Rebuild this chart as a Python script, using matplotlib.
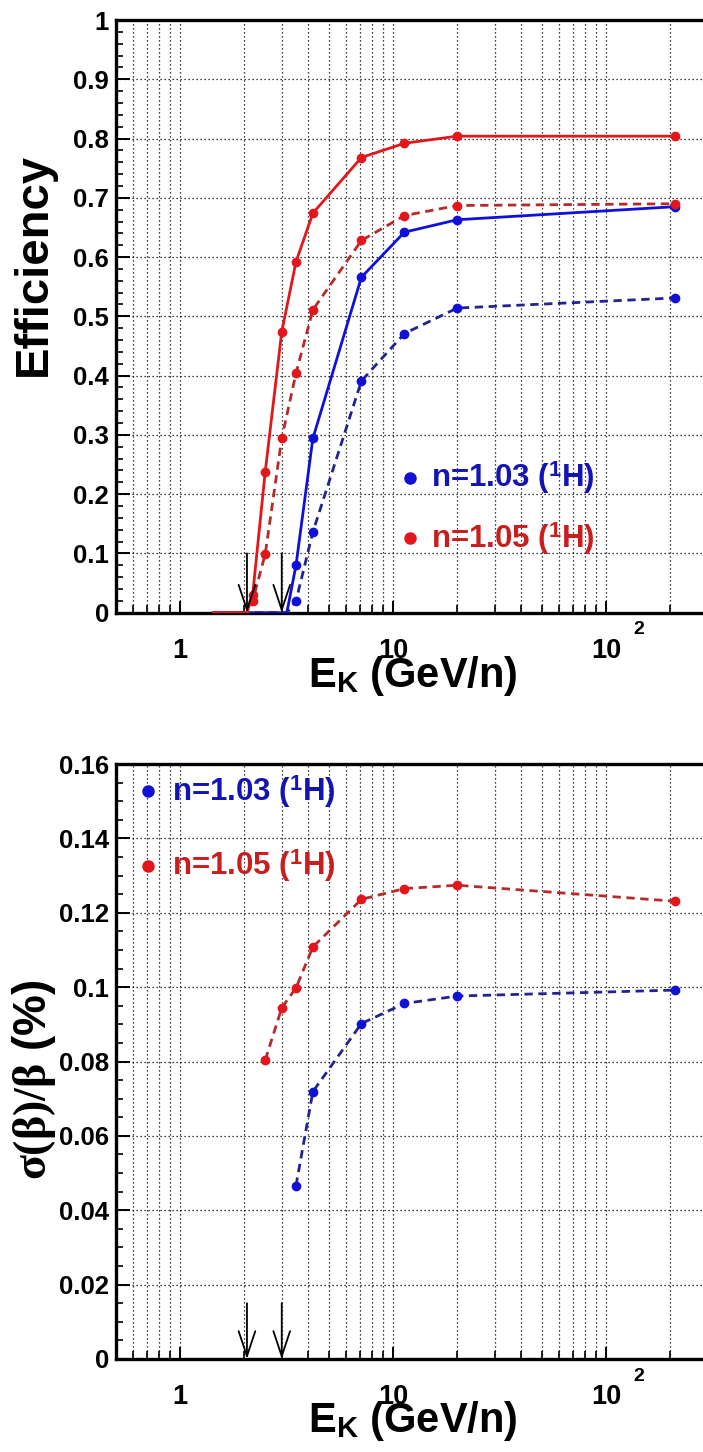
import matplotlib
matplotlib.use('Agg')
import matplotlib.pyplot as plt
import matplotlib.transforms as mtransforms
from matplotlib.ticker import MultipleLocator, LogLocator, NullFormatter, FixedLocator
import numpy as np

plt.rcParams['font.family'] = ['Liberation Sans', 'DejaVu Sans']
plt.rcParams['font.weight'] = 'bold'
plt.rcParams['mathtext.fontset'] = 'custom'
plt.rcParams['mathtext.rm'] = 'Liberation Serif'
plt.rcParams['mathtext.it'] = 'Liberation Serif:italic'
plt.rcParams['mathtext.sf'] = 'Liberation Sans:bold'
plt.rcParams['mathtext.bf'] = 'Liberation Sans:bold'

# ---------------- data ----------------
# Top panel: efficiency vs kinetic energy (GeV/n)
E_103 = [1.43, 3.17, 3.5, 4.2, 7.1, 11.3, 20, 210]
eff_103_solid = [0, 0, 0.080, 0.294, 0.566, 0.642, 0.663, 0.685]
eff_103_dash = [0, 0, 0.020, 0.136, 0.391, 0.471, 0.514, 0.531]
E_105 = [1.43, 2.06, 2.19, 2.51, 3.0, 3.5, 4.2, 7.1, 11.3, 20, 210]
eff_105_solid = [0, 0, 0.03, 0.238, 0.474, 0.592, 0.674, 0.768, 0.792, 0.804, 0.804]
eff_105_dash = [0, 0, 0.02, 0.099, 0.294, 0.404, 0.511, 0.628, 0.670, 0.687, 0.690]

# Bottom panel: velocity resolution (%)
E_sig_103 = [3.5, 4.2, 7.1, 11.3, 20, 210]
sig_103 = [0.0466, 0.0719, 0.0902, 0.0956, 0.0976, 0.0992]
E_sig_105 = [2.51, 3.0, 3.5, 4.2, 7.1, 11.3, 20, 210]
sig_105 = [0.0804, 0.0944, 0.0998, 0.1108, 0.1236, 0.1265, 0.1274, 0.1231]

thresholds = [2.06, 3.0]
legend_labels = ['n=1.03 ($^{\\mathsf{1}}$H)', 'n=1.05 ($^{\\mathsf{1}}$H)']
xtick_vals = [1, 10, 100]
xtick_labels = ['1', '10', '10']
xtick_exponent = '2'   # superscript of the last label (10^2)

BLUE = '#1010d8'
BLUE_D = '#23238f'
RED = '#e3161c'
RED_D = '#b52a2a'
BLUE_T = '#1414b4'
RED_T = '#c81e1e'

W, H = 703, 1452
fig = plt.figure(figsize=(W / 100, H / 100), dpi=100)

left = 116 / W
width = 591.7 / W
ax1 = fig.add_axes([left, 1 - 612.7 / H, width, 592.7 / H])
ax2 = fig.add_axes([left, 1 - 1359 / H, width, 595 / H])


def style(ax, ymax, ymajor, yminor, yticklabels):
    ax.set_xscale('log')
    ax.set_xlim(0.5, 300)
    ax.set_ylim(0, ymax)
    ax.xaxis.set_major_locator(FixedLocator(xtick_vals))
    ax.xaxis.set_minor_locator(LogLocator(base=10, subs=np.arange(2, 10)))
    ax.xaxis.set_minor_formatter(NullFormatter())
    ax.set_xticklabels(xtick_labels)
    ax.yaxis.set_minor_locator(MultipleLocator(yminor))
    ax.set_yticks(np.arange(0, ymax + ymajor / 2, ymajor))
    ax.set_yticklabels(yticklabels)
    ax.tick_params(axis='x', which='major', direction='in', length=9, width=1.4,
                   labelsize=19.5, pad=18)
    ax.tick_params(axis='x', which='minor', direction='in', length=6, width=1.2)
    ax.tick_params(axis='y', which='major', direction='in', length=10, width=1.4,
                   labelsize=18.5, pad=5)
    ax.tick_params(axis='y', which='minor', direction='in', length=5, width=1.2)
    ax.grid(which='both', axis='x', color='k', ls=(0, (1, 2.2)), lw=0.9)
    ax.grid(which='major', axis='y', color='k', ls=(0, (1, 2.2)), lw=0.9)
    for s in ['left', 'bottom', 'top']:
        ax.spines[s].set_linewidth(2.4)
    ax.spines['right'].set_visible(False)
    ax.set_axisbelow(True)
    # exponent of the 10^2 label
    tr = mtransforms.blended_transform_factory(ax.transData, ax.transAxes)
    ax.text(xtick_vals[-1] * 1.43, -0.029, xtick_exponent, transform=tr,
            fontsize=14, fontweight='bold', ha='center', va='center')


style(ax1, 1.0, 0.1, 0.02, ['0', '0.1', '0.2', '0.3', '0.4', '0.5', '0.6', '0.7', '0.8', '0.9', '1'])
style(ax2, 0.16, 0.02, 0.005, ['0', '0.02', '0.04', '0.06', '0.08', '0.1', '0.12', '0.14', '0.16'])


def series(ax, E, y, color, ls, mcolor):
    E = np.asarray(E, float)
    y = np.asarray(y, float)
    ax.plot(E, y, color=color, ls=ls, lw=2.0, zorder=3)
    m = y > 0
    ax.plot(E[m], y[m], 'o', color=mcolor, ms=6, zorder=4)


DASH = (0, (3, 2))
series(ax1, E_103, eff_103_dash, BLUE_D, DASH, BLUE)
series(ax1, E_103, eff_103_solid, BLUE, '-', BLUE)
series(ax1, E_105, eff_105_dash, RED_D, DASH, RED)
series(ax1, E_105, eff_105_solid, RED, '-', RED)

series(ax2, E_sig_103, sig_103, BLUE_D, DASH, BLUE)
series(ax2, E_sig_105, sig_105, RED_D, DASH, RED)

# threshold arrows
for ax, ytop in [(ax1, 0.1), (ax2, 0.015)]:
    for t in thresholds:
        ax.annotate('', xy=(t, 0), xytext=(t, ytop),
                    arrowprops=dict(arrowstyle='->,head_length=0.9,head_width=0.3',
                                    color='k', lw=1.3, mutation_scale=20,
                                    shrinkA=0, shrinkB=0), zorder=5)

# legends
def legend(ax, x_dot, x_txt, ys):
    for lab, y, c, tc in zip(legend_labels, ys, [BLUE, RED], [BLUE_T, RED_T]):
        ax.plot([x_dot], [y], 'o', ms=8, color=c, transform=ax.transAxes, clip_on=False, zorder=6)
        ax.text(x_txt, y, lab, transform=ax.transAxes, color=tc, fontsize=22.5,
                fontweight='bold', va='center', ha='left', zorder=6)

legend(ax1, 0.497, 0.533, [0.228, 0.1255])
legend(ax2, 0.054, 0.094, [0.954, 0.829])

# axis titles
ax1.set_ylabel('Efficiency', fontsize=34, fontweight='bold')
ax1.yaxis.set_label_coords(-0.139, 0.587)
ax2.set_ylabel('$\\mathrm{\\sigma(\\beta)/\\beta}$ (%)', fontsize=33, fontweight='bold')
ax2.yaxis.set_label_coords(-0.139, 0.47)
for ax in (ax1, ax2):
    ax.yaxis.label.set_va('center')
for ax, yl in [(ax1, -0.07), (ax2, -0.068)]:
    ax.set_xlabel('E$_{\\mathsf{K}}$ (GeV/n)', fontsize=30, fontweight='bold')
    ax.xaxis.set_label_coords(0.502, yl)
    ax.xaxis.label.set_va('top')

fig.savefig('out.png', dpi=100)
